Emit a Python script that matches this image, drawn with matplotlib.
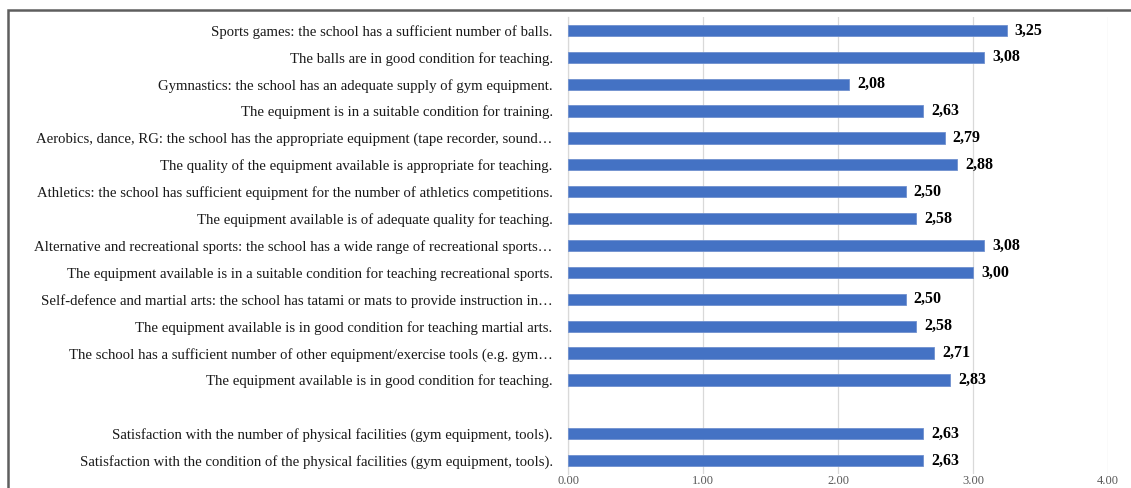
import numpy as np
import matplotlib
matplotlib.use("Agg")
import matplotlib.pyplot as plt
from matplotlib.patches import Rectangle

categories = [
    "Sports games: the school has a sufficient number of balls.",
    "The balls are in good condition for teaching.",
    "Gymnastics: the school has an adequate supply of gym equipment.",
    "The equipment is in a suitable condition for training.",
    "Aerobics, dance, RG: the school has the appropriate equipment (tape recorder, sound\u2026",
    "The quality of the equipment available is appropriate for teaching.",
    "Athletics: the school has sufficient equipment for the number of athletics competitions.",
    "The equipment available is of adequate quality for teaching.",
    "Alternative and recreational sports: the school has a wide range of recreational sports\u2026",
    "The equipment available is in a suitable condition for teaching recreational sports.",
    "Self-defence and martial arts: the school has tatami or mats to provide instruction in\u2026",
    "The equipment available is in good condition for teaching martial arts.",
    "The school has a sufficient number of other equipment/exercise tools (e.g. gym\u2026",
    "The equipment available is in good condition for teaching.",
    "",
    "Satisfaction with the number of physical facilities (gym equipment, tools).",
    "Satisfaction with the condition of the physical facilities (gym equipment, tools).",
]
values = [3.25, 3.08, 2.08, 2.63, 2.79, 2.88, 2.50, 2.58, 3.08, 3.00, 2.50, 2.58,
          2.71, 2.83, np.nan, 2.63, 2.63]
xticks = [0, 1, 2, 3, 4]
xtick_labels = ["0.00", "1.00", "2.00", "3.00", "4.00"]

plt.rcParams['font.family'] = ['Liberation Serif', 'DejaVu Serif']

W, H = 1131, 488
fig = plt.figure(figsize=(W / 100, H / 100), dpi=100)
fig.patch.set_facecolor("white")

# outer frame
fig.add_artist(Rectangle((7.5 / W, -0.1), 1.2, 1.1 - 9.5 / H, transform=fig.transFigure,
                         fill=False, edgecolor="#5e5e5e", linewidth=1.8))

ax = fig.add_axes([568 / W, 1 - 474 / H, 540 / W, 457 / H])
n = len(categories)
y = np.arange(n)
for yi, v in zip(y, values):
    if np.isnan(v):
        continue
    ax.barh(yi, v, height=0.42, color="#4472C4", edgecolor="#6f90cf", linewidth=0.6, zorder=3)
    ax.text(v + 0.06, yi, f"{v:.2f}".replace(".", ","), va="center", ha="left",
            fontsize=11.5, fontweight="bold", color="black")

ax.set_ylim(n - 0.5, -0.5)
ax.set_xlim(0, 4)
ax.set_yticks(y)
ax.set_yticklabels(categories, fontsize=10.6, color="#1a1a1a")
ax.set_xticks(xticks)
ax.set_xticklabels(xtick_labels, fontsize=9, color="#595959")
ax.tick_params(axis="both", length=0)
ax.tick_params(axis="y", pad=11)
ax.tick_params(axis="x", pad=1)
ax.grid(axis="x", color="#d9d9d9", linewidth=0.9, zorder=0)
for s in ["top", "right", "bottom"]:
    ax.spines[s].set_visible(False)
ax.spines["left"].set_color("#d9d9d9")
ax.spines["left"].set_linewidth(0.9)

fig.savefig("out.png", dpi=100, facecolor="white")
